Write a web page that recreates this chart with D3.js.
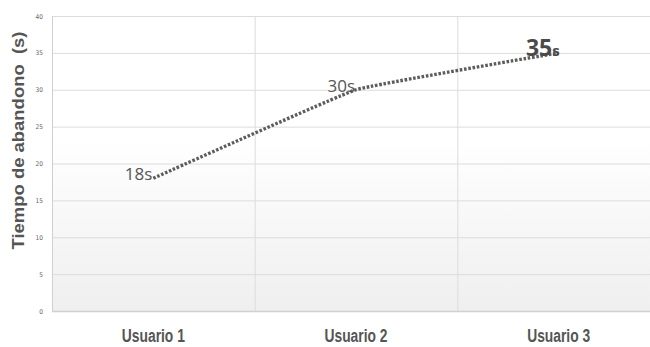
<!DOCTYPE html>
<html>
<head>
<meta charset="utf-8">
<script src="https://cdn.jsdelivr.net/npm/d3@7"></script>
<style>
  html, body { margin: 0; padding: 0; background: #fff; }
  svg { display: block; }
</style>
</head>
<body>
<svg id="chart" width="650" height="347"></svg>
<script>
// Abandonment time per user
const categories = ["Usuario 1", "Usuario 2", "Usuario 3"];
const values = [18, 30, 35];
const yTicks = [0, 5, 10, 15, 20, 25, 30, 35, 40];

const W = 650, H = 347;
const plot = { left: 52, right: 660, top: 16, bottom: 311 };

const svg = d3.select("#chart");

const x = d3.scaleBand().domain(categories).range([plot.left, plot.right]).padding(0);
const y = d3.scaleLinear().domain([0, 40]).range([plot.bottom, plot.top]);

// Plot background: white fading to light grey toward the baseline
const defs = svg.append("defs");
const grad = defs.append("linearGradient")
  .attr("id", "bg").attr("x1", 0).attr("y1", 0).attr("x2", 0).attr("y2", 1);
grad.append("stop").attr("offset", "0%").attr("stop-color", "#ffffff");
grad.append("stop").attr("offset", "42%").attr("stop-color", "#ffffff");
grad.append("stop").attr("offset", "100%").attr("stop-color", "#efefef");

svg.append("rect")
  .attr("x", plot.left).attr("y", plot.top)
  .attr("width", W - plot.left).attr("height", plot.bottom - plot.top)
  .attr("fill", "url(#bg)");

// Horizontal gridlines
svg.append("g").selectAll("line").data(yTicks).join("line")
  .attr("x1", plot.left).attr("x2", W)
  .attr("y1", d => y(d) + 0.5).attr("y2", d => y(d) + 0.5)
  .attr("stroke", d => d === 0 ? "#d0d0d0" : "#dcdcdc")
  .attr("stroke-width", d => d === 0 ? 1.5 : 1);

// Vertical gridlines at category boundaries
svg.append("g").selectAll("line").data(categories.slice(1)).join("line")
  .attr("x1", d => x(d) + 0.5).attr("x2", d => x(d) + 0.5)
  .attr("y1", plot.top).attr("y2", plot.bottom)
  .attr("stroke", "#dcdcdc");

// Left axis line
svg.append("line")
  .attr("x1", plot.left + 0.5).attr("x2", plot.left + 0.5)
  .attr("y1", plot.top).attr("y2", plot.bottom)
  .attr("stroke", "#d0d0d0");

// Y tick labels
const yAxis = d3.axisLeft(y).tickValues(yTicks).tickSize(0).tickPadding(9);
const gy = svg.append("g").attr("transform", `translate(${plot.left},0)`).call(yAxis);
gy.select(".domain").remove();
gy.selectAll("text")
  .attr("fill", "#666")
  .style("font-family", "'DejaVu Sans Condensed', 'Liberation Sans', sans-serif")
  .style("font-size", "6.5px");

// Category labels (condensed)
const xAxis = d3.axisBottom(x).tickSize(0).tickPadding(0);
const gx = svg.append("g").attr("transform", `translate(0,${plot.bottom})`).call(xAxis);
gx.select(".domain").remove();
gx.selectAll("text")
  .attr("dy", 0)
  .attr("y", 31)
  .attr("fill", "#555")
  .attr("textLength", 63)
  .attr("lengthAdjust", "spacingAndGlyphs")
  .style("font-family", "'Liberation Sans', Arial, sans-serif")
  .style("font-weight", "bold")
  .style("font-size", "17.5px");

// Y axis title
svg.append("text")
  .attr("transform", `translate(24,${(plot.top + plot.bottom) / 2 - 23}) rotate(-90)`)
  .attr("text-anchor", "middle")
  .attr("fill", "#555")
  .attr("textLength", 218)
  .attr("lengthAdjust", "spacingAndGlyphs")
  .style("font-family", "'Liberation Sans', Arial, sans-serif")
  .style("font-weight", "bold")
  .style("font-size", "17px")
  .style("white-space", "pre")
  .text("Tiempo de abandono  (s)");

// Dotted data line
const pts = categories.map((c, i) => [x(c) + x.bandwidth() / 2, y(values[i])]);
const line = d3.line().curve(d3.curveCardinal.tension(0.75));
svg.append("path")
  .attr("d", line(pts))
  .attr("fill", "none")
  .attr("stroke", "#5c5c5c")
  .attr("stroke-width", 3.4)
  .attr("stroke-dasharray", "2.6,1.7");

// Data labels
const labelFont = "'Open Sans', 'Liberation Sans', sans-serif";
[0, 1].forEach(i => {
  svg.append("text")
    .attr("x", pts[i][0] - 1).attr("y", pts[i][1] + 2)
    .attr("text-anchor", "end")
    .attr("fill", "#555")
    .style("font-family", labelFont)
    .style("font-size", "17px")
    .text(values[i] + "s");
});
const big = svg.append("text")
  .attr("x", pts[2][0] + 1).attr("y", pts[2][1] + 3)
  .attr("text-anchor", "end")
  .attr("fill", "#4a4a4a")
  .style("font-family", labelFont)
  .style("font-weight", "bold");
big.append("tspan").style("font-size", "23px").text(values[2]);
big.append("tspan").style("font-size", "15px").text("s");
</script>
</body>
</html>
